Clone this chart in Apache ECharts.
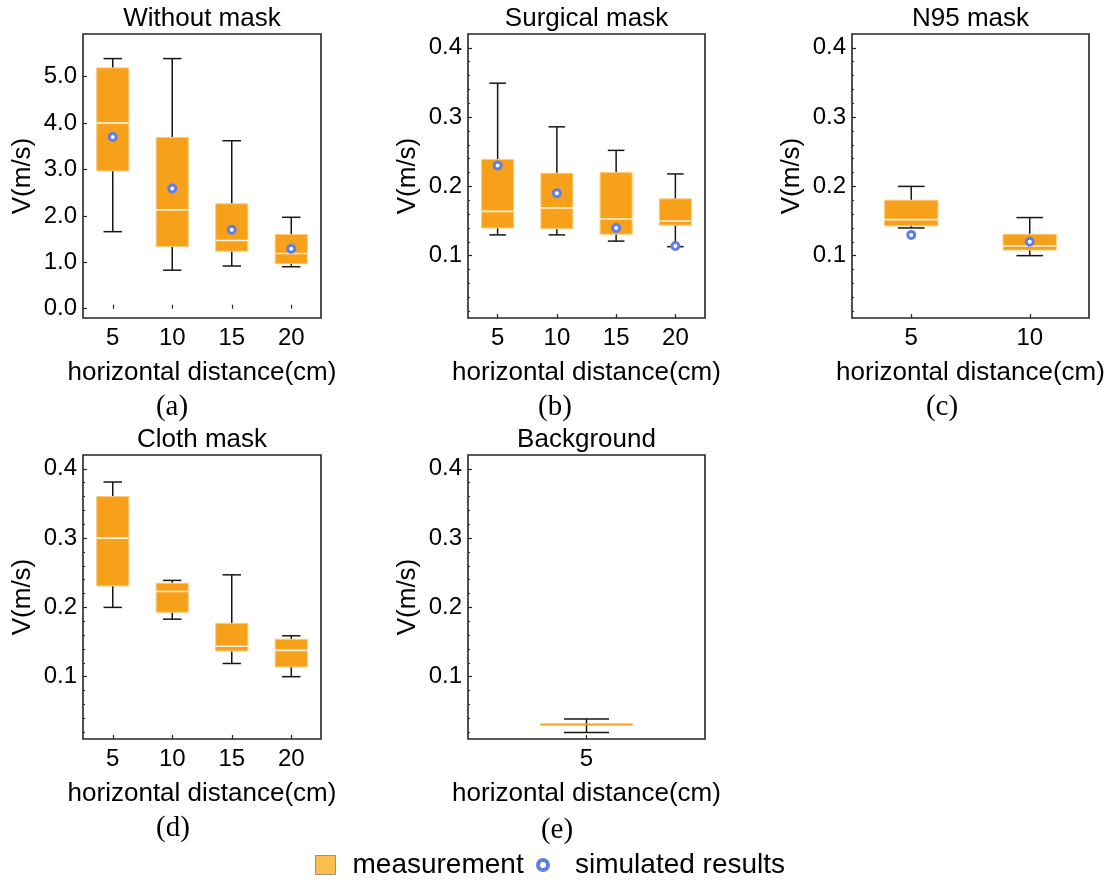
<!DOCTYPE html>
<html>
<head>
<meta charset="utf-8">
<script src="https://cdn.jsdelivr.net/npm/echarts@6/dist/echarts.min.js"></script>
<style>
  html, body { margin: 0; padding: 0; background: #ffffff; }
  #chart { width: 1112px; height: 880px; }
</style>
</head>
<body>
<div id="chart"></div>
<script>
// Horizontal distance categories (cm)
const distFour = ['5', '10', '15', '20'];
const distTwo = ['5', '10'];
const distOne = ['5'];

// Measured velocity per distance: [lower whisker, Q1, median, Q3, upper whisker] (m/s)
const withoutMaskBox = [
  [1.66, 2.97, 4.00, 5.19, 5.39],
  [0.83, 1.34, 2.13, 3.69, 5.39],
  [0.92, 1.24, 1.47, 2.26, 3.62],
  [0.905, 0.97, 1.19, 1.60, 1.97]
];
const surgicalMaskBox = [
  [0.130, 0.140, 0.164, 0.239, 0.349],
  [0.130, 0.139, 0.169, 0.219, 0.286],
  [0.121, 0.131, 0.153, 0.220, 0.252],
  [0.113, 0.144, 0.150, 0.182, 0.218]
];
const n95MaskBox = [
  [0.140, 0.143, 0.152, 0.180, 0.200],
  [0.100, 0.108, 0.114, 0.131, 0.155]
];
const clothMaskBox = [
  [0.200, 0.231, 0.300, 0.360, 0.381],
  [0.183, 0.193, 0.223, 0.235, 0.239],
  [0.119, 0.137, 0.144, 0.177, 0.247],
  [0.100, 0.114, 0.138, 0.154, 0.159]
];
const backgroundBox = [
  [0.0194, 0.031, 0.031, 0.031, 0.0387]
];

// Simulated velocity (m/s)
const withoutMaskSim = [3.70, 2.59, 1.70, 1.29];
const surgicalMaskSim = [0.230, 0.190, 0.140, 0.114];
const n95MaskSim = [0.130, 0.120];

// Tick values
const velocityTicksLarge = [0, 1, 2, 3, 4, 5];
const velocityTicksSmall = [0.1, 0.2, 0.3, 0.4];
const velocityMinorTicks = [0.02, 0.04, 0.06, 0.08, 0.12, 0.14, 0.16, 0.18,
  0.22, 0.24, 0.26, 0.28, 0.32, 0.34, 0.36, 0.38];

const SANS = '"Liberation Sans", Arial, Helvetica, sans-serif';
const SERIF = '"Liberation Serif", "Times New Roman", serif';
const INK = '#000000';
const FRAME = '#262626';
const BOX_FILL = '#F7A019';
const BOX_EDGE = '#FBCB7E';
const MEDIAN = '#FFF4E4';
const SIM_BLUE = '#5D7FE6';

const panels = [
  { title: 'Without mask', letter: '(a)', cats: distFour, box: withoutMaskBox, sim: withoutMaskSim,
    left: 83, top: 34, width: 238, height: 284, ymin: -0.2, ymax: 5.92,
    major: velocityTicksLarge, minor: null, digits: 1, boxRatio: 0.54, capRatio: 0.31,
    letterX: 172, letterY: 407 },
  { title: 'Surgical mask', letter: '(b)', cats: distFour, box: surgicalMaskBox, sim: surgicalMaskSim,
    left: 468, top: 34, width: 237, height: 284, ymin: 0.01, ymax: 0.42,
    major: velocityTicksSmall, minor: velocityMinorTicks, digits: 1, boxRatio: 0.54, capRatio: 0.28,
    letterX: 555, letterY: 407 },
  { title: 'N95 mask', letter: '(c)', cats: distTwo, box: n95MaskBox, sim: n95MaskSim,
    left: 852, top: 34, width: 237, height: 284, ymin: 0.01, ymax: 0.42,
    major: velocityTicksSmall, minor: velocityMinorTicks, digits: 1, boxRatio: 0.45, capRatio: 0.225,
    letterX: 942, letterY: 407 },
  { title: 'Cloth mask', letter: '(d)', cats: distFour, box: clothMaskBox, sim: null,
    left: 83, top: 455, width: 238, height: 284, ymin: 0.01, ymax: 0.42,
    major: velocityTicksSmall, minor: velocityMinorTicks, digits: 1, boxRatio: 0.54, capRatio: 0.31,
    letterX: 173, letterY: 828 },
  { title: 'Background', letter: '(e)', cats: distOne, box: backgroundBox, sim: null,
    left: 468, top: 455, width: 237, height: 284, ymin: 0.01, ymax: 0.42,
    major: velocityTicksSmall, minor: velocityMinorTicks, digits: 1, boxRatio: 0.39, capRatio: 0.19,
    letterX: 557, letterY: 830 }
];

// Box-and-whisker glyph drawn from the axis scales
function boxRenderer(boxRatio, capRatio) {
  return function (params, api) {
    const j = api.value(0);
    const pLo = api.coord([j, api.value(1)]);
    const pQ1 = api.coord([j, api.value(2)]);
    const pMed = api.coord([j, api.value(3)]);
    const pQ3 = api.coord([j, api.value(4)]);
    const pHi = api.coord([j, api.value(5)]);
    const band = api.size([1, 0])[0];
    const cx = pMed[0];
    const bw = band * boxRatio;
    const cw = band * capRatio;
    const whisker = { stroke: '#161616', lineWidth: 1.5 };
    const flat = Math.abs(pQ1[1] - pQ3[1]) < 0.5;
    const children = [
      { type: 'line', shape: { x1: cx, y1: pLo[1], x2: cx, y2: pHi[1] }, style: whisker },
      { type: 'line', shape: { x1: cx - cw / 2, y1: pLo[1], x2: cx + cw / 2, y2: pLo[1] }, style: whisker },
      { type: 'line', shape: { x1: cx - cw / 2, y1: pHi[1], x2: cx + cw / 2, y2: pHi[1] }, style: whisker }
    ];
    if (!flat) {
      children.push({
        type: 'rect',
        shape: { x: cx - bw / 2, y: pQ3[1], width: bw, height: pQ1[1] - pQ3[1] },
        style: { fill: BOX_FILL, stroke: BOX_EDGE, lineWidth: 1 }
      });
    }
    children.push({
      type: 'line',
      shape: { x1: cx - bw / 2, y1: pMed[1], x2: cx + bw / 2, y2: pMed[1] },
      style: { stroke: flat ? BOX_FILL : MEDIAN, lineWidth: flat ? 2 : 1.6 }
    });
    return { type: 'group', children: children };
  };
}

const grids = [];
const xAxes = [];
const yAxes = [];
const series = [];
const texts = [];

panels.forEach(function (p, i) {
  grids.push({
    left: p.left, top: p.top, width: p.width, height: p.height,
    show: true, borderColor: FRAME, borderWidth: 1.6, backgroundColor: 'transparent'
  });
  xAxes.push({
    type: 'category', gridIndex: i, data: p.cats, boundaryGap: true,
    axisLine: { show: false },
    axisTick: { show: true, inside: true, alignWithLabel: true, length: 4, lineStyle: { color: FRAME, width: 1.2 } },
    axisLabel: { fontSize: 24, fontFamily: SANS, color: INK, margin: 8 },
    splitLine: { show: false }
  });
  const yIndex = yAxes.length;
  yAxes.push({
    type: 'value', gridIndex: i, position: 'left', min: p.ymin, max: p.ymax,
    axisLine: { show: false },
    axisTick: { show: true, inside: true, length: 4, customValues: p.major, lineStyle: { color: FRAME, width: 1.2 } },
    axisLabel: {
      customValues: p.major, fontSize: 24, fontFamily: SANS, color: INK, margin: 6,
      formatter: function (v) { return Number(v).toFixed(p.digits); }
    },
    splitLine: { show: false }
  });
  if (p.minor) {
    yAxes.push({
      type: 'value', gridIndex: i, position: 'left', min: p.ymin, max: p.ymax,
      axisLine: { show: false },
      axisTick: { show: true, inside: true, length: 2, customValues: p.minor, lineStyle: { color: FRAME, width: 1 } },
      axisLabel: { show: false },
      splitLine: { show: false }
    });
  }
  series.push({
    type: 'custom', name: 'measurement', xAxisIndex: i, yAxisIndex: yIndex,
    itemStyle: { color: BOX_FILL },
    data: p.box.map(function (b, j) { return [j].concat(b); }),
    encode: { x: 0, y: [1, 2, 3, 4, 5] },
    renderItem: boxRenderer(p.boxRatio, p.capRatio),
    silent: true, z: 2
  });
  if (p.sim) {
    series.push({
      type: 'scatter', name: 'simulated results', xAxisIndex: i, yAxisIndex: yIndex,
      data: p.sim.map(function (v, j) { return [j, v]; }),
      symbol: 'circle', symbolSize: 7,
      itemStyle: { color: '#ffffff', borderColor: SIM_BLUE, borderWidth: 3, opacity: 1 },
      silent: true, z: 5
    });
  }
  const cx = p.left + p.width / 2;
  texts.push({
    type: 'text', x: cx, y: p.top - 15.5,
    style: { text: p.title, fontSize: 26, fontFamily: SANS, fill: INK,
      align: 'center', verticalAlign: 'middle', textAlign: 'center', textVerticalAlign: 'middle' }
  });
  texts.push({
    type: 'text', x: p.left - 60, y: p.top + p.height / 2, rotation: Math.PI / 2,
    style: { text: 'V(m/s)', fontSize: 26, fontFamily: SANS, fill: INK,
      align: 'center', verticalAlign: 'middle', textAlign: 'center', textVerticalAlign: 'middle' }
  });
  texts.push({
    type: 'text', x: cx, y: p.top + p.height + 54.5,
    style: { text: 'horizontal distance(cm)', fontSize: 26, fontFamily: SANS, fill: INK,
      align: 'center', verticalAlign: 'middle', textAlign: 'center', textVerticalAlign: 'middle' }
  });
  texts.push({
    type: 'text', x: p.letterX, y: p.letterY,
    style: { text: p.letter, fontSize: 29, fontFamily: SERIF, fill: INK,
      align: 'center', verticalAlign: 'middle', textAlign: 'center', textVerticalAlign: 'middle' }
  });
});

const chart = echarts.init(document.getElementById('chart'), null, { renderer: 'canvas' });
chart.setOption({
  animation: false,
  backgroundColor: '#ffffff',
  grid: grids,
  xAxis: xAxes,
  yAxis: yAxes,
  series: series,
  legend: [
    {
      data: [{ name: 'measurement', icon: 'rect',
        itemStyle: { color: '#FBBE4E', borderColor: '#A8916E', borderWidth: 1 } }],
      left: 315, top: 851, padding: 0, itemWidth: 20, itemHeight: 19, selectedMode: false,
      textStyle: { fontSize: 28, fontFamily: SANS, color: INK, padding: [0, 0, 0, 12] }
    },
    {
      data: [{ name: 'simulated results', icon: 'circle',
        itemStyle: { color: '#ffffff', borderColor: SIM_BLUE, borderWidth: 4 } }],
      left: 536, top: 851, padding: 0, itemWidth: 10, itemHeight: 10, selectedMode: false,
      textStyle: { fontSize: 28, fontFamily: SANS, color: INK, padding: [0, 0, 0, 22] }
    }
  ],
  graphic: texts
});
</script>
</body>
</html>
